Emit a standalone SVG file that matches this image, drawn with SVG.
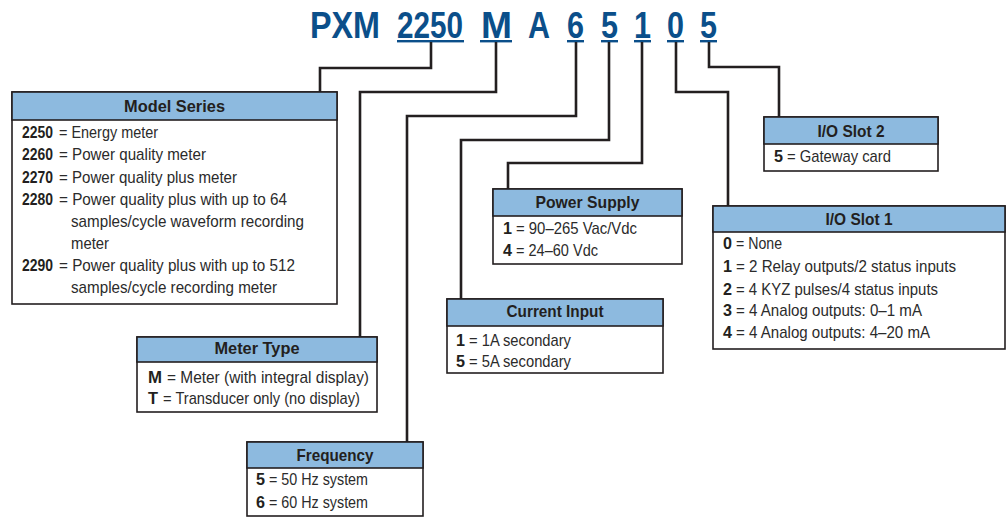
<svg xmlns="http://www.w3.org/2000/svg" width="1006" height="517" viewBox="0 0 1006 517">
<style>
.t{font-family:"Liberation Sans",Arial,sans-serif;font-weight:bold;font-size:36px;fill:#0b4f8a}
.ul{fill:#0b4f8a}
.box{fill:#fff;stroke:#231f20;stroke-width:1.6}
.hd{fill:#8dbadf;stroke:#231f20;stroke-width:1.6}
.h{font-family:"Liberation Sans",Arial,sans-serif;font-weight:bold;font-size:17px;fill:#231f20;text-anchor:middle}
.b{font-family:"Liberation Sans",Arial,sans-serif;font-size:17px;fill:#2b2b2b}
.k{font-family:"Liberation Sans",Arial,sans-serif;font-size:17px;font-weight:bold;fill:#231f20}
.c{fill:none;stroke:#231f20;stroke-width:2.6;stroke-linejoin:miter}
</style>
<g id="title">
<text class="t" x="310" y="38" textLength="70" lengthAdjust="spacingAndGlyphs">PXM</text>
<text class="t" x="397" y="38" textLength="66" lengthAdjust="spacingAndGlyphs">2250</text>
<text class="t" x="481" y="38" textLength="31" lengthAdjust="spacingAndGlyphs">M</text>
<text class="t" x="528" y="38" textLength="22" lengthAdjust="spacingAndGlyphs">A</text>
<text class="t" x="567" y="38" textLength="17" lengthAdjust="spacingAndGlyphs">6</text>
<text class="t" x="601" y="38" textLength="17" lengthAdjust="spacingAndGlyphs">5</text>
<text class="t" x="634" y="38" textLength="17" lengthAdjust="spacingAndGlyphs">1</text>
<text class="t" x="667" y="38" textLength="17" lengthAdjust="spacingAndGlyphs">0</text>
<text class="t" x="700" y="38" textLength="17" lengthAdjust="spacingAndGlyphs">5</text>
<rect class="ul" x="397" y="40" width="67" height="2.4"/>
<rect class="ul" x="480" y="40" width="32" height="2.4"/>
<rect class="ul" x="567" y="40" width="17" height="2.4"/>
<rect class="ul" x="601" y="40" width="17" height="2.4"/>
<rect class="ul" x="634" y="40" width="17" height="2.4"/>
<rect class="ul" x="667" y="40" width="17" height="2.4"/>
<rect class="ul" x="700" y="40" width="17" height="2.4"/>
</g>
<g id="connectors">
<path class="c" d="M431,42 V68 H320 V92"/>
<path class="c" d="M496,42 V92 H360 V337"/>
<path class="c" d="M576,42 V116 H407 V442"/>
<path class="c" d="M609,42 V140 H461 V299"/>
<path class="c" d="M642,42 V163 H508 V189"/>
<path class="c" d="M676,42 V92 H728 V206"/>
<path class="c" d="M709,42 V67 H779 V117"/>
</g>
<g id="model-series">
<rect class="box" x="12" y="92" width="325" height="212"/>
<rect class="hd" x="12" y="92" width="325" height="28"/>
<text class="h" x="174.5" y="112" textLength="101" lengthAdjust="spacingAndGlyphs">Model Series</text>
<text class="k" x="22" y="138" textLength="31" lengthAdjust="spacingAndGlyphs">2250</text>
<text class="b" x="59" y="138" textLength="99" lengthAdjust="spacingAndGlyphs">= Energy meter</text>
<text class="k" x="22" y="160" textLength="31" lengthAdjust="spacingAndGlyphs">2260</text>
<text class="b" x="59" y="160" textLength="147" lengthAdjust="spacingAndGlyphs">= Power quality meter</text>
<text class="k" x="22" y="183" textLength="31" lengthAdjust="spacingAndGlyphs">2270</text>
<text class="b" x="59" y="183" textLength="178" lengthAdjust="spacingAndGlyphs">= Power quality plus meter</text>
<text class="k" x="22" y="205" textLength="31" lengthAdjust="spacingAndGlyphs">2280</text>
<text class="b" x="59" y="205" textLength="228" lengthAdjust="spacingAndGlyphs">= Power quality plus with up to 64</text>
<text class="b" x="71" y="227" textLength="233" lengthAdjust="spacingAndGlyphs">samples/cycle waveform recording</text>
<text class="b" x="71" y="249" textLength="38" lengthAdjust="spacingAndGlyphs">meter</text>
<text class="k" x="22" y="271" textLength="31" lengthAdjust="spacingAndGlyphs">2290</text>
<text class="b" x="59" y="271" textLength="236" lengthAdjust="spacingAndGlyphs">= Power quality plus with up to 512</text>
<text class="b" x="71" y="293" textLength="206" lengthAdjust="spacingAndGlyphs">samples/cycle recording meter</text>
</g>
<g id="meter-type">
<rect class="box" x="137" y="337" width="240" height="75"/>
<rect class="hd" x="137" y="337" width="240" height="25"/>
<text class="h" x="257" y="354" textLength="85" lengthAdjust="spacingAndGlyphs">Meter Type</text>
<text class="k" x="148" y="383" textLength="14" lengthAdjust="spacingAndGlyphs">M</text>
<text class="b" x="167" y="383" textLength="202" lengthAdjust="spacingAndGlyphs">= Meter (with integral display)</text>
<text class="k" x="148" y="404" textLength="10" lengthAdjust="spacingAndGlyphs">T</text>
<text class="b" x="163" y="404" textLength="197" lengthAdjust="spacingAndGlyphs">= Transducer only (no display)</text>
</g>
<g id="frequency">
<rect class="box" x="247" y="442" width="176" height="74"/>
<rect class="hd" x="247" y="442" width="176" height="26"/>
<text class="h" x="335" y="461" textLength="77" lengthAdjust="spacingAndGlyphs">Frequency</text>
<text class="k" x="256" y="485" textLength="9" lengthAdjust="spacingAndGlyphs">5</text>
<text class="b" x="269" y="485" textLength="99" lengthAdjust="spacingAndGlyphs">= 50 Hz system</text>
<text class="k" x="256" y="508" textLength="9" lengthAdjust="spacingAndGlyphs">6</text>
<text class="b" x="269" y="508" textLength="99" lengthAdjust="spacingAndGlyphs">= 60 Hz system</text>
</g>
<g id="power-supply">
<rect class="box" x="493" y="189" width="189" height="75"/>
<rect class="hd" x="493" y="189" width="189" height="27"/>
<text class="h" x="587.5" y="208" textLength="104" lengthAdjust="spacingAndGlyphs">Power Supply</text>
<text class="k" x="503" y="234" textLength="9" lengthAdjust="spacingAndGlyphs">1</text>
<text class="b" x="516" y="234" textLength="121" lengthAdjust="spacingAndGlyphs">= 90–265 Vac/Vdc</text>
<text class="k" x="503" y="256" textLength="9" lengthAdjust="spacingAndGlyphs">4</text>
<text class="b" x="516" y="256" textLength="82" lengthAdjust="spacingAndGlyphs">= 24–60 Vdc</text>
</g>
<g id="current-input">
<rect class="box" x="447" y="299" width="216" height="74"/>
<rect class="hd" x="447" y="299" width="216" height="27"/>
<text class="h" x="555" y="317" textLength="97" lengthAdjust="spacingAndGlyphs">Current Input</text>
<text class="k" x="456" y="346" textLength="9" lengthAdjust="spacingAndGlyphs">1</text>
<text class="b" x="469" y="346" textLength="102" lengthAdjust="spacingAndGlyphs">= 1A secondary</text>
<text class="k" x="456" y="367" textLength="9" lengthAdjust="spacingAndGlyphs">5</text>
<text class="b" x="469" y="367" textLength="102" lengthAdjust="spacingAndGlyphs">= 5A secondary</text>
</g>
<g id="io-slot-2">
<rect class="box" x="764" y="117" width="174" height="54"/>
<rect class="hd" x="764" y="117" width="174" height="27"/>
<text class="h" x="851" y="137" textLength="67" lengthAdjust="spacingAndGlyphs">I/O Slot 2</text>
<text class="k" x="774" y="162" textLength="9" lengthAdjust="spacingAndGlyphs">5</text>
<text class="b" x="787" y="162" textLength="104" lengthAdjust="spacingAndGlyphs">= Gateway card</text>
</g>
<g id="io-slot-1">
<rect class="box" x="713" y="206" width="292" height="143"/>
<rect class="hd" x="713" y="206" width="292" height="26"/>
<text class="h" x="859" y="225" textLength="67" lengthAdjust="spacingAndGlyphs">I/O Slot 1</text>
<text class="k" x="723" y="249" textLength="9" lengthAdjust="spacingAndGlyphs">0</text>
<text class="b" x="736" y="249" textLength="46" lengthAdjust="spacingAndGlyphs">= None</text>
<text class="k" x="723" y="272" textLength="9" lengthAdjust="spacingAndGlyphs">1</text>
<text class="b" x="736" y="272" textLength="220" lengthAdjust="spacingAndGlyphs">= 2 Relay outputs/2 status inputs</text>
<text class="k" x="723" y="295" textLength="9" lengthAdjust="spacingAndGlyphs">2</text>
<text class="b" x="736" y="295" textLength="202" lengthAdjust="spacingAndGlyphs">= 4 KYZ pulses/4 status inputs</text>
<text class="k" x="723" y="316" textLength="9" lengthAdjust="spacingAndGlyphs">3</text>
<text class="b" x="736" y="316" textLength="186" lengthAdjust="spacingAndGlyphs">= 4 Analog outputs: 0–1 mA</text>
<text class="k" x="723" y="338" textLength="9" lengthAdjust="spacingAndGlyphs">4</text>
<text class="b" x="736" y="338" textLength="194" lengthAdjust="spacingAndGlyphs">= 4 Analog outputs: 4–20 mA</text>
</g>
</svg>
